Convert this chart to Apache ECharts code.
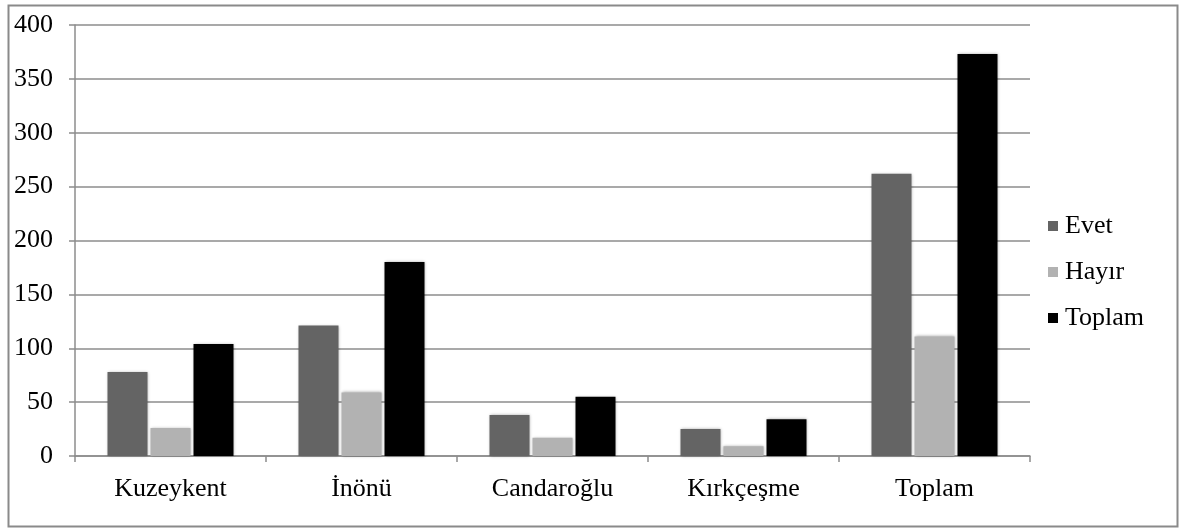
<!DOCTYPE html>
<html><head><meta charset="utf-8">
<script src="https://cdn.jsdelivr.net/npm/echarts@6/dist/echarts.min.js"></script>
<style>html,body{margin:0;padding:0;background:#fff}#c{width:1181px;height:530px}</style>
</head><body><div id="c"></div>
<script>
const categories = ['Kuzeykent', 'İnönü', 'Candaroğlu', 'Kırkçeşme', 'Toplam'];
const evet = [78, 121, 38, 25, 262];
const hayir = [26, 59, 17, 9, 111];
const toplam = [104, 180, 55, 34, 373];
const seriesNames = ['Evet', 'Hayır', 'Toplam'];
const yTicks = [0, 50, 100, 150, 200, 250, 300, 350, 400];

const font = '"Liberation Serif", "Times New Roman", serif';
const colors = ['#646464', '#b2b2b2', '#000000'];
const chart = echarts.init(document.getElementById('c'));
const mk = (name, data, i) => ({
  name, type: 'bar', data,
  barWidth: 40, barGap: '7.5%',
  itemStyle: { color: colors[i], shadowColor: 'rgba(0,0,0,0.35)', shadowBlur: 3 }
});
chart.setOption({
  animation: false,
  graphic: [{ type: 'rect', shape: { x: 8.5, y: 5.5, width: 1169, height: 521 },
    style: { fill: 'none', stroke: '#8a8a8a', lineWidth: 2 }, z: -1 }],
  grid: { left: 75, right: 151, top: 25, bottom: 74 },
  legend: {
    orient: 'vertical', left: 1043, top: 208, itemGap: 20,
    itemWidth: 10, itemHeight: 10, icon: 'rect',
    textStyle: { fontFamily: font, fontSize: 26, color: '#000', padding: [0, 0, 0, 2] },
    data: seriesNames
  },
  xAxis: {
    type: 'category', data: categories,
    axisLine: { lineStyle: { color: '#8c8c8c', width: 1.5 } },
    axisTick: { show: true, length: 6, lineStyle: { color: '#8c8c8c', width: 1.5 } },
    axisLabel: { fontFamily: font, fontSize: 26, color: '#000', margin: 20 }
  },
  yAxis: {
    type: 'value', min: yTicks[0], max: yTicks[yTicks.length - 1], interval: 50,
    axisLine: { show: true, lineStyle: { color: '#8c8c8c', width: 1.5 } },
    axisTick: { show: true, length: 6, lineStyle: { color: '#8c8c8c', width: 1.5 } },
    splitLine: { lineStyle: { color: '#8c8c8c', width: 1.5 } },
    axisLabel: { fontFamily: font, fontSize: 26, color: '#000', margin: 22 }
  },
  series: [mk('Evet', evet, 0), mk('Hayır', hayir, 1), mk('Toplam', toplam, 2)]
});
</script></body></html>
